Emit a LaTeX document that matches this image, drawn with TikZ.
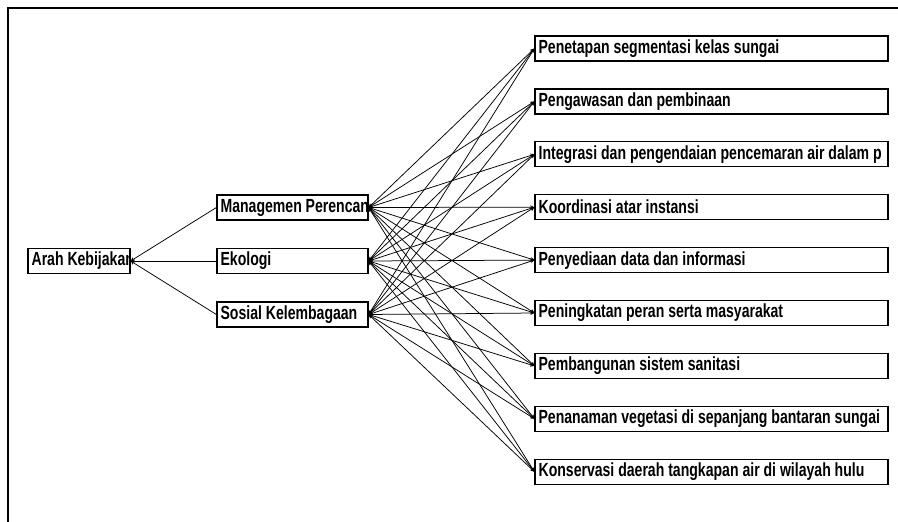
\documentclass[tikz,border=0pt]{standalone}
\usepackage{fontspec}
\setmainfont{Liberation Sans}[FakeStretch=0.74]
\tikzset{
  kotak/.style={draw, line width=1.2pt, minimum height=25pt, inner sep=0pt,
    path picture={\node[draw=none, minimum width=0pt, minimum height=0pt, anchor=west,
      inner sep=3pt, font=\fontsize{19}{19}\selectfont\bfseries]
      at (path picture bounding box.west) {#1};}},
}
\begin{document}
\begin{tikzpicture}[x=1pt,y=-1pt,>=stealth,line width=0.75pt]
\useasboundingbox (0,0) rectangle (898,522);
\draw[line width=2.7pt] (8,524) -- (8,8) -- (900,8);
\node[kotak={Arah Kebijakan}, minimum width=102] (arah) at (79,261) {};
\node[kotak={Managemen Perencanaan}, minimum width=151] (m1) at (292.5,207.5) {};
\node[kotak={Ekologi}, minimum width=151] (m2) at (292.5,261) {};
\node[kotak={Sosial Kelembagaan}, minimum width=151] (m3) at (292.5,314.5) {};
\foreach \t [count=\i] in {Penetapan segmentasi kelas sungai, Pengawasan dan pembinaan,
    Integrasi dan pengendaian pencemaran air dalam p, Koordinasi atar instansi,
    Penyediaan data dan informasi, Peningkatan peran serta masyarakat,
    Pembangunan sistem sanitasi, Penanaman vegetasi di sepanjang bantaran sungai,
    Konservasi daerah tangkapan air di wilayah hulu}
  \node[kotak=\t, minimum width=353] (k\i) at (711.5,{48.5+52.9*(\i-1)}) {};
\foreach \m in {1,2,3} {
  \draw[->] (m\m.west) -- (arah.east);
  \foreach \k in {1,...,9} \draw[<->] (m\m.east) -- (k\k.west);
}
\end{tikzpicture}
\end{document}
